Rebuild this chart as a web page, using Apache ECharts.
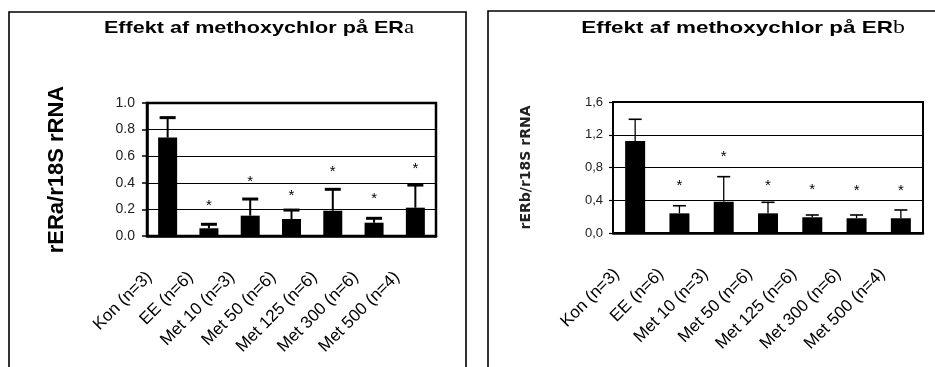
<!DOCTYPE html>
<html>
<head>
<meta charset="utf-8">
<script src="https://cdn.jsdelivr.net/npm/echarts@6/dist/echarts.min.js"></script>
<style>html,body{margin:0;padding:0;background:#fff;}#c{width:935px;height:367px;}</style>
</head>
<body>
<div id="c"></div>
<script>
// ---- data ----
const categories = ['Kon (n=3)', 'EE (n=6)', 'Met 10 (n=3)', 'Met 50 (n=6)', 'Met 125 (n=6)', 'Met 300 (n=6)', 'Met 500 (n=4)'];
// ER alpha (left)
const meanA = [0.74, 0.058, 0.153, 0.128, 0.19, 0.10, 0.213];
const errA  = [0.15, 0.030, 0.125, 0.067, 0.161, 0.033, 0.170];
const starA = [null, 0.258, 0.436, 0.333, 0.514, 0.308, 0.534];
// ER beta (right)
const meanB = [1.124, 0.24, 0.382, 0.24, 0.192, 0.18, 0.18];
const errB  = [0.265, 0.093, 0.306, 0.135, 0.028, 0.04, 0.101];
const starB = [null, 0.619, 0.973, 0.619, 0.578, 0.566, 0.566];

const FONT = 'Liberation Sans, Arial, sans-serif';

function errRender(stars, lw, capLw, capW) {
  return function (params, api) {
    const i = api.value(0), m = api.value(1), e = api.value(2);
    const base = api.coord([i, m]);
    const top = api.coord([i, m + e]);
    const ch = [
      {type: 'line', shape: {x1: base[0], y1: base[1], x2: top[0], y2: top[1]}, style: {stroke: '#000', lineWidth: lw}},
      {type: 'line', shape: {x1: top[0] - capW / 2, y1: top[1], x2: top[0] + capW / 2, y2: top[1]}, style: {stroke: '#000', lineWidth: capLw}}
    ];
    const s = stars[params.dataIndex];
    if (s != null) {
      const sp = api.coord([i, s]);
      ch.push({type: 'text', x: sp[0], y: sp[1] + 4, style: {text: '*', fill: '#000', font: '15px ' + FONT, align: 'center', verticalAlign: 'middle'}});
    }
    return {type: 'group', children: ch};
  };
}

const chart = echarts.init(document.getElementById('c'), null, {renderer: 'canvas'});

function xAxisCfg(gi) {
  return {
    type: 'category', gridIndex: gi, data: categories,
    axisLine: {lineStyle: {color: '#000', width: 2.5}},
    axisTick: {show: false},
    axisLabel: {interval: 0, rotate: 45, margin: 20, padding: [0, 26, 0, 0], color: '#000', fontSize: 17, fontFamily: FONT}
  };
}

const option = {
  animation: false,
  backgroundColor: '#fff',
  grid: [
    {left: 147, top: 103, width: 289, height: 133, show: true, borderColor: '#000', borderWidth: 2.5, backgroundColor: 'transparent'},
    {left: 613, top: 102, width: 310, height: 131, show: true, borderColor: '#000', borderWidth: 2, backgroundColor: 'transparent'}
  ],
  xAxis: [xAxisCfg(0), xAxisCfg(1)],
  yAxis: [
    {
      type: 'value', gridIndex: 0, min: 0, max: 1, interval: 0.2,
      name: 'rERa/r18S rRNA', nameLocation: 'middle', nameRotate: 90, nameGap: 79,
      nameTextStyle: {fontSize: 22, fontWeight: 'bold', color: '#000', fontFamily: FONT},
      axisLine: {show: true, lineStyle: {color: '#000', width: 2.5}},
      axisTick: {show: true, length: 5, lineStyle: {color: '#000', width: 1.5}},
      axisLabel: {margin: 12, color: '#222', fontSize: 14, fontFamily: FONT, formatter: v => v.toFixed(1)},
      splitLine: {lineStyle: {color: '#000', width: 1.2}}
    },
    {
      type: 'value', gridIndex: 1, min: 0, max: 1.6, interval: 0.4,
      name: 'rERb/r18S rRNA', nameLocation: 'middle', nameRotate: 90, nameGap: 80,
      nameTextStyle: {fontSize: 14, fontWeight: 'bold', color: '#222', fontFamily: 'DejaVu Sans, sans-serif'},
      axisLine: {show: true, lineStyle: {color: '#000', width: 2}},
      axisTick: {show: true, length: 4, lineStyle: {color: '#000', width: 1.2}},
      axisLabel: {margin: 10, color: '#222', fontSize: 13, fontFamily: FONT, formatter: v => v.toFixed(1).replace('.', ',')},
      splitLine: {lineStyle: {color: '#000', width: 1}}
    }
  ],
  series: [
    {type: 'bar', xAxisIndex: 0, yAxisIndex: 0, data: meanA, barWidth: 19, itemStyle: {color: '#000'}, z: 3},
    {type: 'custom', xAxisIndex: 0, yAxisIndex: 0, z: 4,
     data: meanA.map((m, i) => [i, m, errA[i]]),
     renderItem: errRender(starA, 2, 3, 16)},
    {type: 'bar', xAxisIndex: 1, yAxisIndex: 1, data: meanB, barWidth: 20, itemStyle: {color: '#000'}, z: 3},
    {type: 'custom', xAxisIndex: 1, yAxisIndex: 1, z: 4,
     data: meanB.map((m, i) => [i, m, errB[i]]),
     renderItem: errRender(starB, 1.3, 1.6, 13)}
  ],
  graphic: [
    {type: 'polyline', shape: {points: [[9, 380], [9, 12], [466, 12], [466, 380]]}, style: {stroke: '#000', lineWidth: 1.6, fill: null}},
    {type: 'polyline', shape: {points: [[488, 380], [488, 11], [950, 11]]}, style: {stroke: '#000', lineWidth: 1.6, fill: null}},
    {type: 'text', x: 259, y: 28, scaleX: 1.27, style: {
      text: 'Effekt af methoxychlor på ER{g|a}', font: 'bold 17px ' + FONT, fill: '#000', align: 'center', verticalAlign: 'middle',
      rich: {g: {fontFamily: 'Liberation Serif, serif', fontWeight: 'normal', fontSize: 18, fill: '#000'}}}},
    {type: 'text', x: 743, y: 28, scaleX: 1.32, style: {
      text: 'Effekt af methoxychlor på ER{g|b}', font: 'bold 17px ' + FONT, fill: '#000', align: 'center', verticalAlign: 'middle',
      rich: {g: {fontFamily: 'Liberation Serif, serif', fontWeight: 'normal', fontSize: 18, fill: '#000'}}}}
  ]
};
chart.setOption(option);
</script>
</body>
</html>
